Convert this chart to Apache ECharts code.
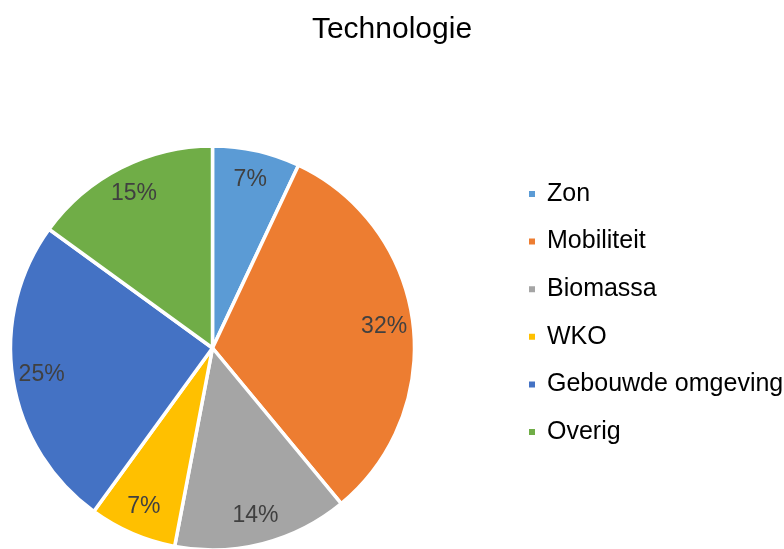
<!DOCTYPE html>
<html><head><meta charset="utf-8">
<script src="https://cdn.jsdelivr.net/npm/echarts@6/dist/echarts.min.js"></script>
<style>html,body{margin:0;padding:0;background:#fff}#c{width:784px;height:549px}</style>
</head><body><div id="c"></div>
<script>
const title = 'Technologie';
const categories = ['Zon', 'Mobiliteit', 'Biomassa', 'WKO', 'Gebouwde omgeving', 'Overig'];
const values = [7, 32, 14, 7, 25, 15];
const colors = ['#5B9BD5', '#ED7D31', '#A5A5A5', '#FFC000', '#4472C4', '#70AD47'];

const data = categories.map((n, i) => ({ name: n, value: values[i], itemStyle: { color: colors[i] } }));
const font = 'Liberation Sans, Arial, Helvetica, sans-serif';
const chart = echarts.init(document.getElementById('c'));
chart.setOption({
  animation: false,
  title: { text: title, left: 'center', top: 10, textStyle: { fontFamily: font, fontSize: 30, fontWeight: 'normal', color: '#000' } },
  legend: {
    orient: 'vertical', left: 522, top: 176, icon: 'rect', itemWidth: 8, itemHeight: 8, itemGap: 21.6,
    data: categories,
    textStyle: { fontFamily: font, fontSize: 25, lineHeight: 26, color: '#000', padding: [0, 0, 0, 6] }
  },
  series: [
    {
      type: 'pie', center: [212.5, 348], radius: [0, 202], startAngle: 90, clockwise: true,
      data: data, label: { show: false }, labelLine: { show: false },
      itemStyle: { borderColor: '#fff', borderWidth: 3.5 }, emphasis: { disabled: true }
    },
    {
      type: 'pie', center: [212.5, 348], radius: [138, 202], startAngle: 90, clockwise: true,
      data: data.map(d => ({ name: d.name, value: d.value })), silent: true,
      itemStyle: { color: 'rgba(0,0,0,0)', borderWidth: 0 }, labelLine: { show: false },
      label: { show: true, position: 'inside', formatter: '{d}%', fontFamily: font, fontSize: 23, color: '#404040' },
      emphasis: { disabled: true }
    }
  ]
});
</script></body></html>
